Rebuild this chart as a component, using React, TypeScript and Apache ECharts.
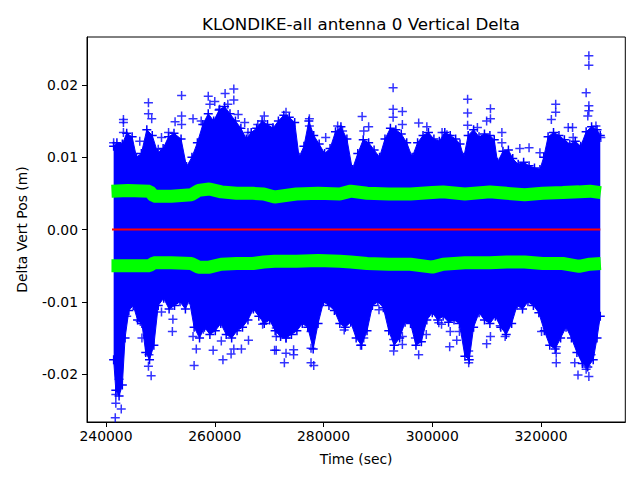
import React, { useEffect, useRef } from "react";
import * as echarts from "echarts";

const TITLE = "KLONDIKE-all antenna 0 Vertical Delta";
const X_LABEL = "Time (sec)";
const Y_LABEL = "Delta Vert Pos (m)";
const X_TICKS = [240000, 260000, 280000, 300000, 320000];
const Y_TICKS = [-0.02, -0.01, 0, 0.01, 0.02];

// upper edge of the dense blue cloud
const UPPER_T = [241400, 242000, 243000, 243800, 244800, 245600, 246500, 247500, 248500, 249500, 250500, 251500, 252500, 253800, 254800, 255800, 256800, 257800, 258800, 259800, 260800, 261800, 262800, 263800, 264800, 265800, 266700, 267700, 268700, 269700, 270700, 271700, 272700, 273700, 274700, 275500, 276400, 277300, 278200, 279200, 280200, 281200, 282200, 283200, 284300, 285300, 286300, 287300, 288300, 289300, 290300, 291300, 292300, 293300, 294300, 295300, 296300, 297300, 298300, 299300, 300300, 301300, 302300, 303300, 304300, 305100, 305800, 306600, 307600, 308600, 309600, 310600, 311400, 312000, 313000, 314000, 314800, 315800, 316800, 317800, 318800, 319800, 320500, 321300, 322300, 323300, 324300, 325300, 326300, 327300, 328300, 329300, 330300, 330900];
const UPPER_V = [0.0115, 0.0120, 0.0118, 0.0133, 0.0128, 0.0100, 0.0105, 0.0138, 0.0130, 0.0106, 0.0112, 0.0128, 0.0133, 0.0125, 0.0087, 0.0100, 0.0120, 0.0145, 0.0160, 0.0150, 0.0165, 0.0170, 0.0160, 0.0150, 0.0140, 0.0125, 0.0134, 0.0140, 0.0150, 0.0145, 0.0140, 0.0150, 0.0158, 0.0155, 0.0148, 0.0100, 0.0115, 0.0150, 0.0130, 0.0118, 0.0105, 0.0112, 0.0135, 0.0142, 0.0125, 0.0083, 0.0105, 0.0124, 0.0120, 0.0110, 0.0100, 0.0125, 0.0140, 0.0138, 0.0132, 0.0120, 0.0100, 0.0120, 0.0130, 0.0134, 0.0125, 0.0122, 0.0134, 0.0130, 0.0125, 0.0118, 0.0100, 0.0130, 0.0138, 0.0128, 0.0132, 0.0130, 0.0124, 0.0093, 0.0108, 0.0110, 0.0098, 0.0090, 0.0093, 0.0088, 0.0085, 0.0083, 0.0100, 0.0128, 0.0134, 0.0130, 0.0124, 0.0118, 0.0122, 0.0115, 0.0135, 0.0142, 0.0138, 0.0130];

// lower edge of the dense blue cloud
const LOWER_T = [241400, 241800, 242400, 243000, 243500, 244200, 245000, 245800, 246600, 247300, 248000, 248800, 249600, 250600, 251600, 252600, 253600, 254600, 255300, 256200, 257200, 258100, 259100, 260100, 261100, 262100, 263100, 264100, 265100, 266100, 267100, 268100, 269100, 270100, 271100, 272100, 273100, 274100, 275100, 276100, 277100, 278100, 279000, 280000, 281000, 282000, 283000, 284000, 285000, 286000, 287000, 288000, 289000, 290000, 291000, 292000, 293000, 294000, 295000, 296000, 297000, 298000, 299000, 300000, 301000, 302000, 303000, 304000, 305000, 306000, 306800, 307600, 308600, 309600, 310600, 311600, 312600, 313600, 314600, 315600, 316600, 317600, 318600, 319600, 320600, 321600, 322600, 323600, 324600, 325600, 326600, 327600, 328600, 329600, 330300, 330900];
const LOWER_V = [-0.0180, -0.0222, -0.0230, -0.0215, -0.0150, -0.0112, -0.0105, -0.0125, -0.0130, -0.0170, -0.0180, -0.0160, -0.0105, -0.0095, -0.0110, -0.0105, -0.0100, -0.0110, -0.0097, -0.0135, -0.0150, -0.0135, -0.0145, -0.0140, -0.0130, -0.0145, -0.0150, -0.0140, -0.0135, -0.0125, -0.0110, -0.0120, -0.0130, -0.0125, -0.0140, -0.0148, -0.0150, -0.0145, -0.0140, -0.0130, -0.0135, -0.0165, -0.0130, -0.0100, -0.0105, -0.0112, -0.0130, -0.0135, -0.0128, -0.0150, -0.0160, -0.0140, -0.0105, -0.0100, -0.0108, -0.0140, -0.0160, -0.0150, -0.0128, -0.0130, -0.0160, -0.0155, -0.0125, -0.0115, -0.0125, -0.0120, -0.0128, -0.0125, -0.0130, -0.0175, -0.0180, -0.0135, -0.0115, -0.0125, -0.0130, -0.0120, -0.0135, -0.0145, -0.0130, -0.0105, -0.0110, -0.0100, -0.0105, -0.0115, -0.0140, -0.0160, -0.0165, -0.0150, -0.0135, -0.0150, -0.0170, -0.0185, -0.0190, -0.0180, -0.0150, -0.0120];

// isolated points above the cloud
const UP_OUT_T = [241400, 243200, 243200, 243200, 246200, 247800, 247800, 248400, 249600, 250200, 251500, 252700, 253900, 253900, 253900, 256000, 257500, 258800, 259100, 260000, 260900, 261900, 263500, 263500, 262400, 264300, 265500, 266100, 267900, 269100, 270700, 273100, 273100, 277400, 277400, 280400, 282600, 283500, 287100, 287400, 288300, 292800, 292800, 292800, 294500, 294500, 297500, 299000, 301800, 302700, 306500, 306500, 306500, 308300, 310000, 310700, 310700, 312800, 312800, 314000, 316100, 317800, 319800, 321900, 322700, 322700, 325000, 325800, 325900, 328300, 328800, 328800, 328800, 328800, 328600, 330100, 331000];
const UP_OUT_V = [0.0120, 0.0148, 0.0134, 0.0152, 0.0122, 0.0175, 0.0160, 0.0153, 0.0111, 0.0127, 0.0134, 0.0149, 0.0185, 0.0157, 0.0145, 0.0153, 0.0150, 0.0184, 0.0173, 0.0177, 0.0166, 0.0188, 0.0194, 0.0179, 0.0173, 0.0159, 0.0148, 0.0134, 0.0145, 0.0157, 0.0141, 0.0162, 0.0150, 0.0153, 0.0143, 0.0127, 0.0143, 0.0136, 0.0156, 0.0136, 0.0142, 0.0196, 0.0166, 0.0155, 0.0163, 0.0145, 0.0147, 0.0142, 0.0134, 0.0131, 0.0180, 0.0161, 0.0144, 0.0141, 0.0150, 0.0167, 0.0153, 0.0134, 0.0120, 0.0101, 0.0112, 0.0113, 0.0106, 0.0152, 0.0173, 0.0162, 0.0141, 0.0141, 0.0127, 0.0189, 0.0240, 0.0227, 0.0171, 0.0164, 0.0157, 0.0143, 0.0127];

// isolated points below the cloud
const LO_OUT_T = [241700, 242800, 241800, 241800, 242400, 243800, 246300, 246600, 247800, 248300, 247900, 250200, 252200, 252300, 256200, 256600, 256000, 257900, 259700, 261500, 261200, 263000, 263500, 264900, 266200, 268800, 271000, 271300, 271300, 271300, 272800, 273100, 274500, 274500, 273100, 277700, 277700, 277700, 278200, 283800, 286800, 287400, 286800, 290200, 292900, 292900, 292900, 294500, 294500, 296900, 297500, 298900, 301200, 301700, 303200, 303300, 304500, 305000, 306700, 306700, 306700, 310000, 310700, 312500, 313400, 320100, 322800, 322800, 322800, 326200, 326800, 328300, 328300, 328800, 329200, 330000];
const LO_OUT_V = [-0.0260, -0.0248, -0.0240, -0.0228, -0.0207, -0.0120, -0.0127, -0.0150, -0.0189, -0.0202, -0.0173, -0.0114, -0.0141, -0.0124, -0.0188, -0.0165, -0.0148, -0.0138, -0.0167, -0.0180, -0.0154, -0.0172, -0.0165, -0.0165, -0.0153, -0.0131, -0.0167, -0.0167, -0.0148, -0.0136, -0.0184, -0.0171, -0.0166, -0.0173, -0.0150, -0.0141, -0.0164, -0.0184, -0.0188, -0.0139, -0.0160, -0.0150, -0.0136, -0.0111, -0.0134, -0.0152, -0.0168, -0.0148, -0.0159, -0.0150, -0.0173, -0.0145, -0.0129, -0.0131, -0.0162, -0.0141, -0.0153, -0.0141, -0.0184, -0.0175, -0.0168, -0.0158, -0.0148, -0.0133, -0.0148, -0.0141, -0.0184, -0.0171, -0.0162, -0.0184, -0.0201, -0.0188, -0.0193, -0.0203, -0.0173, -0.0124];

// green bands (centre of each band)
const GREEN_T = [241000, 244000, 248000, 248800, 252000, 255700, 257000, 259000, 261200, 264000, 267000, 269000, 271000, 272000, 275000, 279000, 283000, 285000, 288000, 292000, 296000, 300000, 302000, 306000, 310600, 313700, 317000, 320300, 324000, 327000, 329000, 331000];
const GREEN_UP = [0.0053, 0.0054, 0.0053, 0.0046, 0.0046, 0.0048, 0.0054, 0.0056, 0.0052, 0.0050, 0.0050, 0.0049, 0.0045, 0.0046, 0.0049, 0.0050, 0.0049, 0.0053, 0.0050, 0.0049, 0.0049, 0.0051, 0.0052, 0.0049, 0.0052, 0.0050, 0.0048, 0.0050, 0.0051, 0.0052, 0.0053, 0.0051];
const GREEN_LO = [-0.0050, -0.0050, -0.0050, -0.0046, -0.0046, -0.0047, -0.0052, -0.0052, -0.0048, -0.0047, -0.0047, -0.0045, -0.0044, -0.0044, -0.0044, -0.0043, -0.0044, -0.0045, -0.0047, -0.0048, -0.0048, -0.0052, -0.0048, -0.0046, -0.0046, -0.0045, -0.0045, -0.0047, -0.0047, -0.0051, -0.0048, -0.0047];

// red mean line
const RED_T = [241100, 330900];
const RED_V = [0, 0];

const PLUS = "path://M7.5,0h3v7.5h7.5v3h-7.5v7.5h-3v-7.5h-7.5v-3h7.5z";
const FONT = "DejaVu Sans";
const BLUE = "#0000ff";

const zip = (a: number[], b: number[]) => a.map((v, i) => [v, b[i]]);

export default function App() {
  const ref = useRef<HTMLDivElement>(null);
  useEffect(() => {
    const chart = echarts.init(ref.current!, null, { renderer: "svg" });
    const envelope = (t: number[], v: number[]) => ({
      type: "line",
      data: zip(t, v),
      symbol: PLUS,
      symbolSize: 9,
      showSymbol: true,
      showAllSymbol: true,
      itemStyle: { color: BLUE },
      lineStyle: { color: BLUE, width: 1 },
      areaStyle: { color: BLUE, opacity: 1, origin: 0 },
      z: 2,
      silent: true,
    });
    const green = (v: number[]) => ({
      type: "line",
      data: zip(GREEN_T, v),
      symbol: "none",
      lineStyle: { color: "#00ff00", width: 13, cap: "butt" },
      z: 4,
      silent: true,
    });
    chart.setOption({
      animation: false,
      title: {
        text: TITLE,
        left: 356,
        top: 10,
        textAlign: "center",
        textStyle: { fontFamily: FONT, fontSize: 16.7, fontWeight: "normal", color: "#000" },
      },
      grid: {
        left: 87,
        right: 14.7,
        top: 37,
        bottom: 58,
        show: true,
        borderColor: "#000",
        borderWidth: 1,
        backgroundColor: "#fff",
      },
      xAxis: {
        type: "value",
        min: 236500,
        max: 335500,
        name: X_LABEL,
        nameLocation: "middle",
        nameGap: 30,
        nameTextStyle: { fontFamily: FONT, fontSize: 13.9, color: "#000" },
        axisLine: { show: true, onZero: false, lineStyle: { color: "#000", width: 1 } },
        axisTick: { show: true, inside: false, length: 5, customValues: X_TICKS, lineStyle: { color: "#000" } },
        axisLabel: {
          customValues: X_TICKS,
          margin: 7,
          fontFamily: FONT,
          fontSize: 13.9,
          color: "#000",
          formatter: (v: number) => String(v),
        },
        splitLine: { show: false },
      },
      yAxis: {
        type: "value",
        min: -0.0266,
        max: 0.0266,
        name: Y_LABEL,
        nameLocation: "middle",
        nameGap: 58,
        nameTextStyle: { fontFamily: FONT, fontSize: 13.9, color: "#000" },
        axisLine: { show: true, onZero: false, lineStyle: { color: "#000", width: 1 } },
        axisTick: { show: true, inside: false, length: 5, customValues: Y_TICKS, lineStyle: { color: "#000" } },
        axisLabel: {
          customValues: Y_TICKS,
          margin: 9,
          fontFamily: FONT,
          fontSize: 13.9,
          color: "#000",
          formatter: (v: number) => v.toFixed(2),
        },
        splitLine: { show: false },
      },
      series: [
        envelope(UPPER_T, UPPER_V),
        envelope(LOWER_T, LOWER_V),
        {
          type: "scatter",
          data: zip(UP_OUT_T, UP_OUT_V),
          symbol: PLUS,
          symbolSize: 9,
          itemStyle: { color: BLUE },
          z: 3,
          silent: true,
        },
        {
          type: "scatter",
          data: zip(LO_OUT_T, LO_OUT_V),
          symbol: PLUS,
          symbolSize: 9,
          itemStyle: { color: BLUE },
          z: 3,
          silent: true,
        },
        green(GREEN_UP),
        green(GREEN_LO),
        {
          type: "line",
          data: zip(RED_T, RED_V),
          symbol: "none",
          lineStyle: { color: "#ff0000", width: 2 },
          z: 5,
          silent: true,
        },
      ],
    });
    return () => chart.dispose();
  }, []);
  return (
    <div
      ref={ref}
      style={{ position: "absolute", left: 0, top: 0, width: 640, height: 480 }}
    />
  );
}
